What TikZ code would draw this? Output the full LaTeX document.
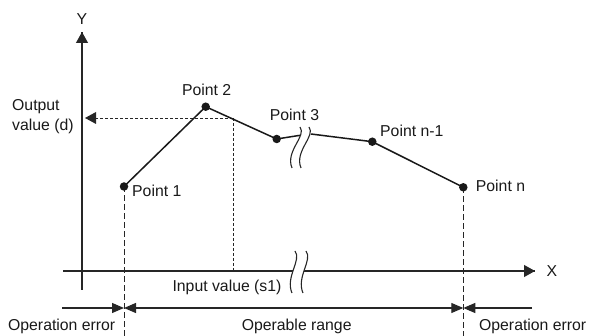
\documentclass[tikz,border=0pt]{standalone}
\usepackage{fontspec}
\setmainfont{Liberation Sans}
\usetikzlibrary{arrows.meta,calc}
\begin{document}
\begin{tikzpicture}[x=1pt,y=-1pt,
  every node/.style={inner sep=0pt,font=\fontsize{15.8}{20}\selectfont, text=black!90},
  axis/.style={line width=1.1pt,draw=black!85},
  tip/.style={-{Triangle[length=11pt,width=12pt]}},
  rtip/.style={-{Triangle[length=12pt,width=10pt]}},
  curve/.style={line width=1.5pt,draw=black!90},
  dot/.style={circle,fill=black!90,minimum size=8.5pt,inner sep=0pt},
  longdash/.style={line width=0.9pt,draw=black!85,dash pattern=on 6pt off 3pt},
  shortdash/.style={line width=0.9pt,draw=black!85,dash pattern=on 3pt off 2pt},
  brk/.style={line width=1.1pt,draw=black!85}]
\useasboundingbox (0,0) rectangle (589,336);

% coordinates
\coordinate (yb) at (82,290);
\coordinate (yt) at (82,32);
\coordinate (xl) at (63,271);
\coordinate (xr) at (535,271);
\coordinate (p1) at (124,186.5);
\coordinate (p2) at (205.7,106.7);
\coordinate (p3) at (276.7,139);
\coordinate (b1) at (302,135);
\coordinate (b2) at (311,134);
\coordinate (pn1) at (372.3,141.7);
\coordinate (pn) at (463.3,187.3);
\coordinate (c) at (233,118);
\coordinate (ca) at (85,118);
\coordinate (cx) at (233,271);
\coordinate (p1b) at (124,336);
\coordinate (pnb) at (463.3,336);
\coordinate (rl) at (62,308);
\coordinate (r1) at (124,308);
\coordinate (r2) at (463.3,308);
\coordinate (rr) at (532,308);

% axes
\draw[axis] (yb) -- (yt);
\draw[axis,tip] (yt) ++(0,12) -- (yt);
\draw[axis] (xl) -- (xr);
\draw[axis,tip] (xr) ++(-12,0) -- (xr);

% dashed guides
\draw[shortdash] (c) -- (cx);
\draw[shortdash] (c) -- ($(ca)+(9,0)$);
\fill[black!85] (ca) -- ++(11,-6) -- ++(0,12) -- cycle;
\draw[longdash] (p1) -- (p1b);
\draw[longdash] (pn) -- (pnb);

% curve
\draw[curve] (p1) -- (p2) -- (p3) -- (b1);
\draw[curve] (b2) -- (pn1) -- (pn);

% break on curve
\fill[white] (300,127) .. controls (307,136) and (285,151) .. (292,168)
  -- (301,168) .. controls (294,151) and (316,136) .. (309,127) -- cycle;
\draw[brk] (300,127) .. controls (307,136) and (285,151) .. (292,168);
\draw[brk] (309,127) .. controls (316,136) and (294,151) .. (301,168);

% break on x axis
\fill[white] (295,251) .. controls (302,260) and (285,277) .. (292,293)
  -- (303,293) .. controls (296,277) and (313,260) .. (306,251) -- cycle;
\draw[brk] (295,251) .. controls (302,260) and (285,277) .. (292,293);
\draw[brk] (306,251) .. controls (313,260) and (296,277) .. (303,293);

% dots
\node[dot] (d1) at (p1) {};
\node[dot] (d2) at (p2) {};
\node[dot] (d3) at (p3) {};
\node[dot] (dn1) at (pn1) {};
\node[dot] (dn) at (pn) {};

% range arrows
\draw[axis,rtip] (rl) -- (r1);
\draw[axis,{Triangle[length=12pt,width=10pt]}-{Triangle[length=12pt,width=10pt]}] (r1) -- (r2);
\draw[axis,rtip] (rr) -- (r2);

% labels
\node (ylab) at (82,19) {Y};
\node (xlab) at (552,271) {X};
\node[anchor=west,align=left] (out) at (12,117) {Output\\value (d)};
\node[anchor=west] (l1) at (132,191) {Point 1};
\node (l2) at (206.7,90) {Point 2};
\node (l3) at (294.5,115) {Point 3};
\node[anchor=west] (ln1) at (380,131) {Point n-1};
\node[anchor=west] (ln) at (475.7,186) {Point n};
\node (inp) at (227,287) {Input value (s1)};
\node (oe1) at (61.7,326) {Operation error};
\node (opr) at (296.7,326) {Operable range};
\node (oe2) at (532.7,326) {Operation error};
\end{tikzpicture}
\end{document}
